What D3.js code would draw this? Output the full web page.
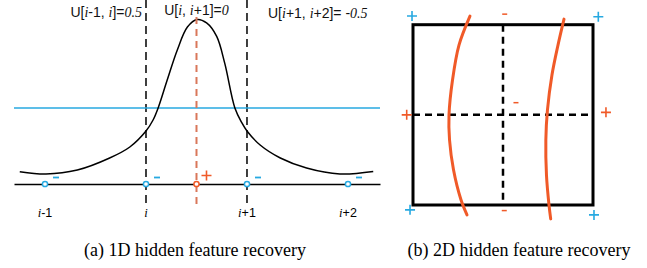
<!DOCTYPE html>
<html>
<head>
<meta charset="utf-8">
<script src="https://cdn.jsdelivr.net/npm/d3@7"></script>
<style>
  body { margin: 0; background: #fff; }
  svg { display: block; }
  .sans { font-family: "Liberation Sans", Arial, sans-serif; }
  .it { font-family: "Liberation Serif", "Times New Roman", serif; font-style: italic; }
  .cap { font-family: "Liberation Serif", "Times New Roman", serif; font-size: 18px; }
</style>
</head>
<body>
<script>
// ---- panel (a): 1D ----
const nodeX = [0, 1, 2, 3];                 // i-1, i, i+1, i+2
const nodeLabels = ["-1", "", "+1", "+2"];  // suffix after italic i
const midX = 1.5;                           // hidden feature location
const blueLevel = 0.462;
// curve (x in node units, y relative height)
const curveX = [-0.25, 0.01, 0.32, 0.64, 0.84, 1.0, 1.07, 1.12, 1.21, 1.31, 1.41, 1.505,
                1.6, 1.7, 1.78, 1.88, 1.95, 2.0, 2.13, 2.33, 2.59, 2.92, 3.25];
const curveY = [0.075, 0.061, 0.085, 0.158, 0.225, 0.322, 0.389, 0.462, 0.632, 0.815, 0.954, 1.0,
                0.979, 0.897, 0.733, 0.462, 0.371, 0.322, 0.237, 0.158, 0.097, 0.061, 0.076];

// ---- panel (b): 2D ----
const leftCurveX = [-0.367, -0.489, -0.561, -0.6, -0.594, -0.55, -0.467, -0.4];
const leftCurveY = [1.095, 0.774, 0.386, -0.002, -0.279, -0.61, -0.942, -1.109];
const rightCurveX = [0.678, 0.611, 0.544, 0.494, 0.476, 0.483, 0.511, 0.530];
const rightCurveY = [1.062, 0.774, 0.442, 0.054, -0.279, -0.667, -0.999, -1.154];
const bluePlusX = [-1.011, 1.059, -1.033, 1.011];
const bluePlusY = [1.096, 1.088, -1.054, -1.110];
const orangePlusX = [-1.07, 1.144];
const orangePlusY = [0.0, 0.028];
const orangeMinusX = [0.019, 0.144, 0.014];
const orangeMinusY = [1.117, 0.135, -1.062];

const W = 647, H = 268;
const blue = "#27a9e1", orange = "#f05a28", salmon = "#d9775a";

const svg = d3.select("body").append("svg").attr("width", W).attr("height", H);

// ===== panel (a) =====
const x = d3.scaleLinear().domain([-0.307, 3.317]).range([14, 380]);
const y = d3.scaleLinear().domain([0, 1]).range([184, 19.5]);
const a = svg.append("g");

// dashed verticals at i and i+1
a.selectAll("line.vd").data([1, 2]).enter().append("line")
  .attr("x1", d => x(d)).attr("x2", d => x(d))
  .attr("y1", 0).attr("y2", 207)
  .attr("stroke", "#000").attr("stroke-width", 1.5).attr("stroke-dasharray", "8,5");

// blue level line
a.append("line")
  .attr("x1", x.range()[0]).attr("x2", x.range()[1])
  .attr("y1", y(blueLevel)).attr("y2", y(blueLevel))
  .attr("stroke", blue).attr("stroke-width", 1.5);

// curve
const pts = curveX.map((v, i) => [v, curveY[i]]);
a.append("path").datum(pts)
  .attr("d", d3.line().x(d => x(d[0])).y(d => y(d[1])).curve(d3.curveCatmullRom))
  .attr("fill", "none").attr("stroke", "#000").attr("stroke-width", 1.5);

// orange dashed line at hidden feature
a.append("line")
  .attr("x1", x(midX)).attr("x2", x(midX))
  .attr("y1", 17).attr("y2", 204)
  .attr("stroke", salmon).attr("stroke-width", 2).attr("stroke-dasharray", "7,5");

// axis line
a.append("g").attr("transform", `translate(0,${y(0)})`)
  .call(d3.axisBottom(x).tickValues([]).tickSizeOuter(0))
  .select(".domain").attr("stroke", "#000").attr("stroke-width", 1.5);

// blue minus signs
a.selectAll("line.bm").data(nodeX).enter().append("line")
  .attr("x1", d => x(d) + 8).attr("x2", d => x(d) + 14)
  .attr("y1", y(0) - 6.5).attr("y2", y(0) - 6.5)
  .attr("stroke", blue).attr("stroke-width", 1.8);

// nodes
a.selectAll("circle.n").data(nodeX).enter().append("circle")
  .attr("cx", d => x(d)).attr("cy", y(0)).attr("r", 2.6)
  .attr("fill", "#fff").attr("stroke", blue).attr("stroke-width", 1.5);
a.append("circle").attr("cx", x(midX)).attr("cy", y(0)).attr("r", 2.6)
  .attr("fill", "#fff").attr("stroke", orange).attr("stroke-width", 1.5);

// orange plus near hidden node
const px0 = x(midX) + 10, py0 = y(0) - 8.5;
a.append("path").attr("d", `M${px0 - 5},${py0}H${px0 + 5}M${px0},${py0 - 5}V${py0 + 5}`)
  .attr("stroke", orange).attr("stroke-width", 1.6);

// node labels
nodeX.forEach((v, i) => {
  const t = a.append("text").attr("x", x(v)).attr("y", 217)
    .attr("text-anchor", "middle").attr("font-size", 12.5);
  t.append("tspan").attr("class", "it").text("i");
  t.append("tspan").attr("class", "sans").text(nodeLabels[i]);
});

// top labels
function ulabel(g, parts, xx, yy, anchor) {
  const t = g.append("text").attr("x", xx).attr("y", yy).attr("font-size", 14)
    .attr("text-anchor", anchor).attr("fill", "#111");
  parts.forEach(p => t.append("tspan").attr("class", p[1] ? "it" : "sans").text(p[0]));
}
ulabel(a, [["U[", 0], ["i", 1], ["-1, ", 0], ["i", 1], ["]=", 0], ["0.5", 1]], x(1) - 4, 17, "end");
ulabel(a, [["U[", 0], ["i", 1], [", ", 0], ["i", 1], ["+1]=", 0], ["0", 1]], x(midX), 15, "middle");
ulabel(a, [["U[", 0], ["i", 1], ["+1, ", 0], ["i", 1], ["+2]= -", 0], ["0.5", 1]], x(2) + 21, 18, "start");

svg.append("text").attr("class", "cap").attr("x", 195).attr("y", 256)
  .attr("text-anchor", "middle").text("(a) 1D hidden feature recovery");

// ===== panel (b) =====
const bx = d3.scaleLinear().domain([-1, 1]).range([413, 593]);
const by = d3.scaleLinear().domain([-1, 1]).range([205, 24.7]);
const b = svg.append("g");

b.append("line").attr("x1", bx(0)).attr("x2", bx(0)).attr("y1", by(1)).attr("y2", by(-1))
  .attr("stroke", "#000").attr("stroke-width", 2.5).attr("stroke-dasharray", "7,5");
b.append("line").attr("x1", bx(-1)).attr("x2", bx(1)).attr("y1", by(0)).attr("y2", by(0))
  .attr("stroke", "#000").attr("stroke-width", 2.5).attr("stroke-dasharray", "7,5");
b.append("rect").attr("x", bx(-1)).attr("y", by(1))
  .attr("width", bx(1) - bx(-1)).attr("height", by(-1) - by(1))
  .attr("fill", "none").attr("stroke", "#000").attr("stroke-width", 3);

const bline = d3.line().x(d => bx(d[0])).y(d => by(d[1])).curve(d3.curveCatmullRom);
[[leftCurveX, leftCurveY], [rightCurveX, rightCurveY]].forEach(c => {
  b.append("path").datum(c[0].map((v, i) => [v, c[1][i]]))
    .attr("d", bline).attr("fill", "none")
    .attr("stroke", orange).attr("stroke-width", 3).attr("stroke-linecap", "round");
});

function plus(g, cx, cy, col) {
  g.append("path").attr("d", `M${cx - 5},${cy}H${cx + 5}M${cx},${cy - 5}V${cy + 5}`)
    .attr("stroke", col).attr("stroke-width", 1.6);
}
bluePlusX.forEach((v, i) => plus(b, bx(v), by(bluePlusY[i]), blue));
orangePlusX.forEach((v, i) => plus(b, bx(v), by(orangePlusY[i]), orange));
orangeMinusX.forEach((v, i) => {
  b.append("line").attr("x1", bx(v) - 2.5).attr("x2", bx(v) + 2.5)
    .attr("y1", by(orangeMinusY[i])).attr("y2", by(orangeMinusY[i]))
    .attr("stroke", orange).attr("stroke-width", 1.5);
});

svg.append("text").attr("class", "cap").attr("x", 519).attr("y", 256)
  .attr("text-anchor", "middle").text("(b) 2D hidden feature recovery");
</script>
</body>
</html>
